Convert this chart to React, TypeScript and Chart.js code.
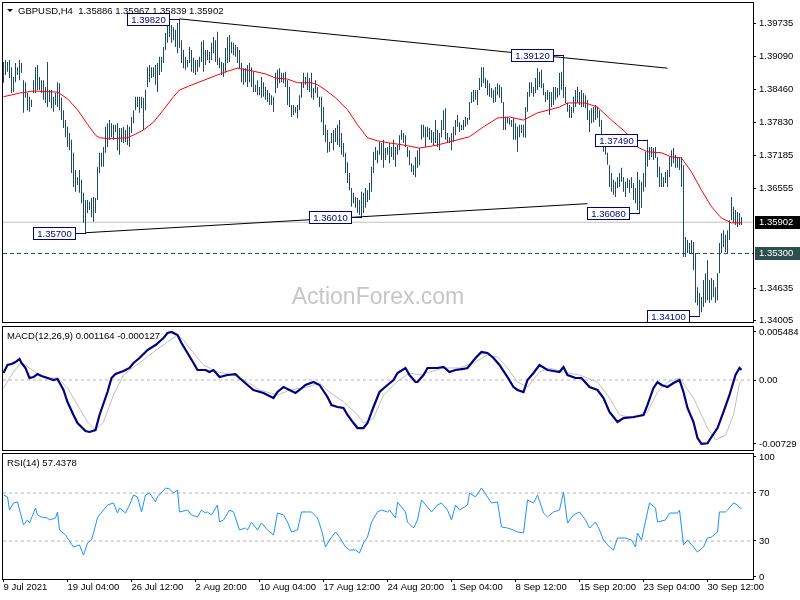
import React, { useEffect, useRef } from "react";
import { Chart, registerables } from "chart.js";

Chart.register(...registerables);

const FONT = "'Liberation Sans', Arial, sans-serif";
const BAR_COLOR = "#1c4a64";

const headerText = "GBPUSD,H4  1.35886 1.35967 1.35839 1.35902";
const watermark = "ActionForex.com";
const macdTitle = "MACD(12,26,9) 0.001164 -0.000127";
const rsiTitle = "RSI(14) 57.4378";

// H4 bars, index 0..369 (high / low)
const barHigh = [
  1.3899,1.3903,1.3899,1.3903,1.3889,1.3870,1.3897,1.3889,1.3903,1.3897,
  1.3864,1.3860,1.3839,1.3832,1.3826,1.3864,1.3889,1.3893,1.3870,1.3864,
  1.3864,1.3851,1.3899,1.3845,1.3845,1.3832,1.3839,1.3860,1.3858,1.3830,
  1.3806,1.3787,1.3774,1.3762,1.3749,1.3724,1.3691,1.3677,1.3691,1.3672,
  1.3647,1.3633,1.3633,1.3629,1.3637,1.3639,1.3637,1.3697,1.3724,1.3724,
  1.3735,1.3774,1.3781,1.3787,1.3781,1.3778,1.3778,1.3781,1.3772,1.3772,
  1.3774,1.3768,1.3778,1.3774,1.3793,1.3806,1.3832,1.3832,1.3832,1.3832,
  1.3830,1.3845,1.3889,1.3893,1.3889,1.3889,1.3893,1.3897,1.3909,1.3909,
  1.3928,1.3955,1.3976,1.3974,1.3970,1.3966,1.3961,1.3974,1.3982,1.3941,
  1.3922,1.3909,1.3903,1.3928,1.3922,1.3907,1.3903,1.3903,1.3909,1.3938,
  1.3941,1.3922,1.3922,1.3918,1.3936,1.3947,1.3941,1.3957,1.3907,1.3899,
  1.3897,1.3926,1.3947,1.3951,1.3938,1.3936,1.3932,1.3928,1.3922,1.3897,
  1.3887,1.3887,1.3893,1.3897,1.3889,1.3880,1.3855,1.3864,1.3851,1.3870,
  1.3860,1.3851,1.3845,1.3839,1.3835,1.3832,1.3878,1.3884,1.3887,1.3878,
  1.3878,1.3880,1.3864,1.3851,1.3816,1.3816,1.3812,1.3816,1.3835,1.3860,
  1.3878,1.3870,1.3878,1.3868,1.3878,1.3849,1.3864,1.3851,1.3832,1.3832,
  1.3812,1.3778,1.3768,1.3745,1.3762,1.3768,1.3772,1.3778,1.3787,1.3762,
  1.3743,1.3724,1.3706,1.3685,1.3656,1.3647,1.3639,1.3637,1.3633,1.3649,
  1.3647,1.3656,1.3652,1.3666,1.3697,1.3726,1.3735,1.3729,1.3745,1.3743,
  1.3749,1.3733,1.3735,1.3743,1.3735,1.3749,1.3735,1.3739,1.3758,1.3768,
  1.3762,1.3758,1.3735,1.3729,1.3704,1.3700,1.3716,1.3729,1.3733,1.3778,
  1.3778,1.3774,1.3774,1.3772,1.3768,1.3764,1.3787,1.3768,1.3762,1.3787,
  1.3806,1.3810,1.3762,1.3754,1.3762,1.3774,1.3787,1.3797,1.3783,1.3778,
  1.3787,1.3793,1.3791,1.3822,1.3841,1.3845,1.3845,1.3845,1.3868,1.3889,
  1.3889,1.3868,1.3864,1.3858,1.3849,1.3845,1.3851,1.3858,1.3855,1.3851,
  1.3822,1.3793,1.3793,1.3791,1.3787,1.3791,1.3781,1.3774,1.3778,1.3778,
  1.3778,1.3812,1.3841,1.3860,1.3860,1.3851,1.3868,1.3887,1.3880,1.3884,
  1.3858,1.3841,1.3845,1.3841,1.3841,1.3851,1.3851,1.3849,1.3878,1.3880,
  1.3912,1.3851,1.3820,1.3816,1.3812,1.3832,1.3845,1.3851,1.3841,1.3845,
  1.3839,1.3835,1.3826,1.3806,1.3810,1.3812,1.3816,1.3812,1.3806,1.3787,
  1.3753,1.3745,1.3724,1.3700,1.3685,1.3672,1.3668,1.3677,1.3685,1.3695,
  1.3677,1.3668,1.3675,1.3672,1.3677,1.3666,1.3656,1.3687,1.3672,1.3668,
  1.3685,1.3726,1.3749,1.3735,1.3735,1.3733,1.3735,1.3716,1.3697,1.3685,
  1.3677,1.3687,1.3691,1.3716,1.3729,1.3733,1.3720,1.3716,1.3716,1.3716,
  1.3700,1.3562,1.3556,1.3550,1.3556,1.3552,1.3531,1.3465,1.3454,1.3446,
  1.3479,1.3492,1.3517,1.3479,1.3483,1.3479,1.3465,1.3492,1.3550,1.3569,
  1.3575,1.3566,1.3575,1.3594,1.3639,1.3620,1.3614,1.3610,1.3608,1.3600,
];
const barLow = [
  1.3859,1.3874,1.3880,1.3868,1.3839,1.3841,1.3860,1.3874,1.3864,1.3878,
  1.3801,1.3830,1.3806,1.3803,1.3812,1.3839,1.3839,1.3845,1.3845,1.3839,
  1.3826,1.3820,1.3812,1.3822,1.3810,1.3803,1.3816,1.3812,1.3806,1.3787,
  1.3772,1.3754,1.3735,1.3729,1.3685,1.3658,1.3649,1.3662,1.3647,1.3627,
  1.3589,1.3570,1.3608,1.3614,1.3600,1.3591,1.3608,1.3633,1.3685,1.3697,
  1.3697,1.3724,1.3735,1.3749,1.3754,1.3749,1.3764,1.3729,1.3720,1.3745,
  1.3743,1.3745,1.3739,1.3735,1.3762,1.3781,1.3806,1.3812,1.3801,1.3810,
  1.3768,1.3806,1.3851,1.3860,1.3868,1.3870,1.3855,1.3841,1.3874,1.3880,
  1.3897,1.3922,1.3936,1.3947,1.3936,1.3941,1.3928,1.3916,1.3926,1.3897,
  1.3887,1.3884,1.3889,1.3897,1.3880,1.3878,1.3874,1.3880,1.3889,1.3899,
  1.3880,1.3893,1.3903,1.3897,1.3903,1.3916,1.3899,1.3893,1.3887,1.3874,
  1.3870,1.3878,1.3897,1.3899,1.3916,1.3912,1.3909,1.3897,1.3887,1.3860,
  1.3855,1.3860,1.3851,1.3860,1.3851,1.3841,1.3841,1.3835,1.3835,1.3830,
  1.3832,1.3826,1.3822,1.3816,1.3816,1.3803,1.3839,1.3849,1.3858,1.3860,
  1.3858,1.3851,1.3816,1.3812,1.3793,1.3797,1.3801,1.3791,1.3806,1.3830,
  1.3849,1.3855,1.3845,1.3841,1.3830,1.3826,1.3839,1.3830,1.3812,1.3783,
  1.3758,1.3745,1.3724,1.3726,1.3743,1.3729,1.3745,1.3739,1.3735,1.3720,
  1.3716,1.3685,1.3666,1.3652,1.3620,1.3627,1.3618,1.3608,1.3604,1.3601,
  1.3608,1.3618,1.3629,1.3633,1.3649,1.3685,1.3710,1.3704,1.3720,1.3710,
  1.3695,1.3710,1.3720,1.3704,1.3716,1.3710,1.3697,1.3720,1.3729,1.3749,
  1.3743,1.3735,1.3716,1.3700,1.3687,1.3681,1.3677,1.3695,1.3700,1.3749,
  1.3754,1.3735,1.3754,1.3749,1.3743,1.3739,1.3743,1.3735,1.3729,1.3754,
  1.3768,1.3749,1.3743,1.3743,1.3729,1.3745,1.3758,1.3774,1.3764,1.3768,
  1.3768,1.3774,1.3778,1.3787,1.3820,1.3822,1.3826,1.3816,1.3845,1.3851,
  1.3858,1.3849,1.3835,1.3832,1.3830,1.3820,1.3822,1.3835,1.3830,1.3820,
  1.3768,1.3768,1.3781,1.3778,1.3774,1.3749,1.3749,1.3726,1.3754,1.3762,
  1.3754,1.3753,1.3803,1.3832,1.3839,1.3832,1.3839,1.3845,1.3851,1.3849,
  1.3835,1.3822,1.3826,1.3797,1.3812,1.3816,1.3826,1.3830,1.3835,1.3845,
  1.3830,1.3820,1.3803,1.3791,1.3791,1.3801,1.3812,1.3820,1.3816,1.3812,
  1.3812,1.3810,1.3787,1.3764,1.3781,1.3783,1.3787,1.3791,1.3774,1.3743,
  1.3726,1.3720,1.3701,1.3658,1.3649,1.3643,1.3639,1.3656,1.3658,1.3668,
  1.3649,1.3639,1.3656,1.3647,1.3656,1.3633,1.3627,1.3614,1.3608,1.3618,
  1.3649,1.3658,1.3697,1.3710,1.3716,1.3710,1.3714,1.3677,1.3658,1.3658,
  1.3658,1.3666,1.3658,1.3677,1.3697,1.3704,1.3695,1.3695,1.3691,1.3658,
  1.3523,1.3523,1.3531,1.3531,1.3531,1.3498,1.3435,1.3430,1.3410,1.3417,
  1.3427,1.3435,1.3440,1.3435,1.3440,1.3446,1.3435,1.3440,1.3492,1.3531,
  1.3542,1.3533,1.3531,1.3556,1.3594,1.3589,1.3585,1.3581,1.3585,1.3585,
];

// Moving average (red), sampled
const maIdx = [0,8,15,27,32,37,42,46,48,53,62,66,70,75,80,85,88,93,99,107,111,117,124,131,136,142,147,154,157,161,166,172,177,182,187,193,200,208,217,227,233,240,247,253,260,267,273,278,282,291,297,304,311,317,322,329,334,339,344,349,354,359,364,369];
const maVal = [1.3832,1.3839,1.3843,1.3841,1.3828,1.3807,1.3779,1.3758,1.3753,1.3751,1.3753,1.3760,1.3768,1.3783,1.3807,1.3832,1.3845,1.3853,1.3862,1.3874,1.3880,1.3887,1.3882,1.3876,1.3868,1.3866,1.3859,1.3859,1.3855,1.3845,1.3830,1.3807,1.3778,1.3753,1.3747,1.3743,1.3739,1.3733,1.3739,1.3749,1.3755,1.3774,1.3791,1.3793,1.3787,1.3801,1.3807,1.3812,1.3820,1.3820,1.3812,1.3787,1.3764,1.3735,1.3726,1.3724,1.3716,1.3714,1.3687,1.3652,1.3620,1.3598,1.3589,1.3589];

const priceTicks = [1.39735, 1.3909, 1.3846, 1.3783, 1.37185, 1.36555, 1.34635, 1.34005];
const currentPrice = 1.35902;
const supportLevel = 1.353;
const currentText = "1.35902";
const supportText = "1.35300";

const pivotIdx = [88, 41, 179, 280, 322, 318, 348];
const pivotPrice = [1.3982, 1.357, 1.3601, 1.3912, 1.3749, 1.3608, 1.341];
const pivotText = ["1.39820", "1.35700", "1.36010", "1.39120", "1.37490", "1.36080", "1.34100"];

const upperTrendIdx = [88, 332];
const upperTrendVal = [1.3982, 1.3887];
const lowerTrendIdx = [41, 292];
const lowerTrendVal = [1.357, 1.3626];

// MACD
const macdIdx = [0,2,4,6,8,9,11,13,15,17,19,22,25,27,30,32,35,37,39,41,43,46,48,52,54,56,60,63,65,68,72,76,80,82,84,87,89,92,95,97,101,103,105,108,112,116,118,122,125,130,135,137,140,143,146,148,151,155,158,162,164,167,170,172,175,177,180,182,185,188,192,195,197,201,203,206,207,210,212,217,220,223,226,230,232,236,239,242,245,248,252,255,257,260,262,265,268,272,275,278,280,282,286,289,293,297,300,303,307,310,315,320,322,325,327,329,332,335,338,340,342,345,347,349,352,354,357,360,363,366,368,369];
const macdVal = [0.0008,0.00171,0.00183,0.00205,0.0024,0.00194,0.00137,0.00023,0.00034,0.00068,0.00046,0.00023,0,0.00011,-0.00114,-0.00251,-0.00399,-0.00491,-0.00536,-0.00582,-0.00593,-0.00571,-0.00399,-0.00137,0.00023,0.00068,0.00103,0.00137,0.00194,0.00251,0.00342,0.00399,0.00479,0.00536,0.00548,0.00513,0.00422,0.00308,0.00194,0.00114,0.00114,0.00091,0.00114,0.00034,0.00057,0.00068,0.00023,-0.00057,-0.00114,-0.00148,-0.00205,-0.00137,-0.0008,-0.00114,-0.00148,-0.00114,-0.00057,-0.00023,-0.00057,-0.00194,-0.00285,-0.00308,-0.00319,-0.00399,-0.00491,-0.00548,-0.00548,-0.00491,-0.00308,-0.00137,-0.00057,0,0.0008,0.00137,0.00057,-0.00023,-0.00023,0.00057,0.00137,0.00137,0.00148,0.00091,0.00114,0.00126,0.00137,0.00251,0.00319,0.00308,0.00251,0.00171,0.00034,-0.0008,-0.00114,-0.00137,0,0.0008,0.00171,0.00114,0.00103,0.00091,0.00148,0.00057,0.00023,0.00023,-0.0008,-0.00114,-0.00205,-0.00365,-0.00479,-0.00434,-0.00422,-0.00399,-0.00285,-0.00091,-0.00023,-0.00057,-0.0008,-0.00034,0,-0.00137,-0.00319,-0.00479,-0.00662,-0.00729,-0.00722,-0.0065,-0.00548,-0.00365,-0.00171,0.00057,0.00137,0.00116];
const signalIdx = [0,5,9,13,18,23,27,32,37,42,46,50,55,60,63,68,75,82,87,90,95,100,107,115,122,128,137,143,152,158,163,170,177,180,185,190,195,198,203,208,213,220,228,235,242,247,252,257,262,268,273,280,288,297,303,308,315,322,327,332,338,345,352,356,361,365,368,369];
const signalVal = [-0.00091,0.00091,0.00205,0.00137,0.00057,0.00023,0.00023,-0.00091,-0.00285,-0.00479,-0.00571,-0.00479,-0.00171,0.00057,0.00114,0.00194,0.00319,0.00434,0.00513,0.00456,0.00308,0.00171,0.00091,0.00057,-0.00023,-0.00114,-0.00171,-0.00114,-0.0008,-0.00034,-0.00137,-0.00251,-0.00399,-0.00491,-0.00434,-0.00171,-0.00057,0,0.0008,0.00057,0.00091,0.00137,0.00137,0.00194,0.00285,0.00262,0.00137,-0.00023,-0.0008,0.00091,0.00137,0.00091,0.00057,-0.00023,-0.00205,-0.00399,-0.00434,-0.00365,-0.00137,-0.00023,0.00023,-0.00205,-0.00548,-0.00685,-0.00628,-0.00399,-0.00034,-0.00013];
const macdTicks = [0.005484, 0, -0.00729];
const macdTickText = ["0.005484", "0.00", "-0.00729"];

// RSI
const rsiIdx = [0,2,3,5,7,9,10,12,13,16,17,19,22,23,26,27,28,31,32,35,38,40,42,44,47,48,52,55,57,58,61,63,65,67,69,71,73,76,77,81,83,85,87,88,92,94,97,99,101,102,104,107,108,110,113,115,118,121,122,124,127,129,132,135,137,140,142,144,147,149,152,154,157,159,161,163,166,168,171,173,176,178,180,182,184,187,189,192,193,196,197,201,202,205,207,209,212,214,217,219,222,224,226,228,232,233,236,239,242,244,247,249,252,255,257,260,262,265,267,270,272,275,278,280,282,285,288,291,293,296,298,300,303,305,307,311,314,316,317,319,322,323,326,327,331,333,337,338,340,342,345,347,350,352,354,357,358,361,362,365,367,368,369];
const rsiVal = [68.3,66.7,55.8,61.7,62.5,50,43.3,47.5,45,57.5,51.7,50,49.2,47.5,49.2,54.2,39.2,35,32.5,25,26.7,18.3,28.3,30.8,49.2,51.7,60,61.7,53.3,57.5,53.3,60,68.3,66.7,54.2,68.3,70,62.5,66.7,74.2,73.3,70,72.5,54.2,55.8,51.7,50,55.8,53.3,54.2,51.7,60,45.8,47.5,55.8,54.2,39.2,40.8,39.2,45.8,39.2,45,39.2,35,53.3,51.7,45.8,37.5,39.2,54.2,54.2,54.2,49.2,39.2,25,30.8,37.5,33.3,25,22.5,22.5,20,28.3,33.3,45.8,54.2,55.8,54.2,55.8,49.2,62.5,54.2,45.8,40.8,47.5,64.2,58.3,54.2,60,61.7,55.8,47.5,60,55.8,60,70,66.7,74.2,66.7,61.7,62.5,41.7,40.8,39.2,37.5,36.7,64.2,61.7,68.3,53.3,50,54.2,55.8,70.8,45,51.7,54.2,47.5,40.8,45.8,39.2,30.8,25,22.5,32.5,32.5,30.8,25,36.7,30.8,54.2,61.7,57.5,45.8,47.5,53.3,53.3,55.8,26.7,30.8,25,20.8,25,32.5,33.3,37.5,54.2,54.2,55.8,61.7,60,57.5,57.4];
const rsiTicks = [100, 70, 30, 0];
const rsiTickText = ["100", "70", "30", "0"];
const rsiLevels = [70, 30];

// time axis
const timeIdx = [0, 32, 64, 96, 128, 160, 192, 224, 256, 288, 320, 352];
const timeLabels = ["9 Jul 2021", "19 Jul 04:00", "26 Jul 12:00", "2 Aug 20:00", "10 Aug 04:00", "17 Aug 12:00", "24 Aug 20:00", "1 Sep 04:00", "8 Sep 12:00", "15 Sep 20:00", "23 Sep 04:00", "30 Sep 12:00"];

const X_MIN = -0.25;
const X_MAX = 374.75;
const TICK_FONT = { family: FONT, size: 9.5 };

const pts = (idx: number[], val: number[]) => idx.map((x, k) => ({ x, y: val[k] }));
const hline = (v: number) => [{ x: X_MIN, y: v }, { x: X_MAX, y: v }];

const frame = {
  id: "frame",
  afterDraw(chart: any) {
    const { ctx, chartArea: a } = chart;
    ctx.save();
    ctx.strokeStyle = "#000";
    ctx.lineWidth = 1;
    ctx.strokeRect(a.left - 0.5, a.top - 0.5, a.right - a.left + 1, a.bottom - a.top + 1);
    ctx.restore();
  },
};

const noPad = (s: any) => {
  s.paddingTop = 0;
  s.paddingBottom = 0;
  s.paddingLeft = 0;
  s.paddingRight = 0;
};

const yAxisBase = (ticks: number[], text: (v: number, i: number) => string, min: number, max: number) => ({
  position: "right" as const,
  min,
  max,
  afterFit: (s: any) => { s.width = 47; noPad(s); },
  afterBuildTicks: (s: any) => { s.ticks = ticks.map((v) => ({ value: v })); },
  ticks: { callback: (v: any, i: number) => text(Number(v), i), font: TICK_FONT, color: "#000", padding: 3, autoSkip: false },
  grid: { drawOnChartArea: false, drawTicks: true, tickLength: 3, color: "#000" },
  border: { display: false },
});

export default function App() {
  const mainRef = useRef<HTMLCanvasElement>(null);
  const macdRef = useRef<HTMLCanvasElement>(null);
  const rsiRef = useRef<HTMLCanvasElement>(null);

  useEffect(() => {
    const charts: Chart[] = [];
    const bars = barHigh.map((h, i) => ({ x: i, y: [barLow[i], h] }));

    const mainDecor = {
      id: "mainDecor",
      beforeDatasetsDraw(chart: any) {
        const { ctx } = chart;
        ctx.save();
        ctx.font = `23px ${FONT}`;
        ctx.fillStyle = "#c6c6c6";
        ctx.textAlign = "center";
        ctx.textBaseline = "middle";
        ctx.fillText(watermark, 378, 298);
        ctx.restore();
      },
      afterDatasetsDraw(chart: any) {
        const { ctx, scales } = chart;
        const xs = scales.x, ys = scales.y;
        ctx.save();
        ctx.font = `9.5px ${FONT}`;
        ctx.textAlign = "center";
        ctx.textBaseline = "middle";
        for (let k = 0; k < pivotIdx.length; k++) {
          const px = xs.getPixelForValue(pivotIdx[k]);
          const py = Math.round(ys.getPixelForValue(pivotPrice[k])) + 0.5;
          const right = px - 10;
          ctx.strokeStyle = "#000080";
          ctx.lineWidth = 1;
          ctx.beginPath();
          ctx.moveTo(right, py);
          ctx.lineTo(px + 0.5, py);
          ctx.stroke();
          ctx.fillStyle = "#ffffff";
          ctx.fillRect(right - 42, py - 6, 42, 12);
          ctx.strokeRect(right - 42, py - 6, 42, 12);
          ctx.fillStyle = "#000080";
          ctx.fillText(pivotText[k], right - 21, py + 0.5);
        }
        ctx.restore();
      },
      afterDraw(chart: any) {
        const { ctx, chartArea: a, scales } = chart;
        const ys = scales.y;
        ctx.save();
        ctx.fillStyle = "#000";
        ctx.beginPath();
        ctx.moveTo(7, 9);
        ctx.lineTo(13, 9);
        ctx.lineTo(10, 12);
        ctx.closePath();
        ctx.fill();
        ctx.font = `9.5px ${FONT}`;
        ctx.textAlign = "left";
        ctx.textBaseline = "middle";
        ctx.fillText(headerText, 18, 11);
        const boxes: [number, string, string][] = [
          [currentPrice, currentText, "#000000"],
          [supportLevel, supportText, "#2f4f4f"],
        ];
        for (const [v, t, c] of boxes) {
          const py = Math.round(ys.getPixelForValue(v));
          ctx.fillStyle = c;
          ctx.fillRect(a.right + 2, py - 6, 46, 13);
          ctx.fillStyle = "#fff";
          ctx.fillText(t, a.right + 6, py + 0.5);
        }
        ctx.restore();
      },
    };

    if (mainRef.current) {
      charts.push(
        new Chart(mainRef.current, {
          type: "bar",
          data: {
            datasets: [
              { type: "line", data: hline(currentPrice), borderColor: "#c0c0c0", borderWidth: 1, pointRadius: 0, order: 6 } as any,
              { type: "line", data: hline(supportLevel), borderColor: "#2f4f4f", borderDash: [4, 3], borderWidth: 1, pointRadius: 0, order: 5 } as any,
              { type: "bar", data: bars, backgroundColor: BAR_COLOR, barThickness: 1, borderWidth: 0, inflateAmount: 0, order: 4 } as any,
              { type: "line", data: pts(maIdx, maVal), borderColor: "#ff0000", borderWidth: 1, pointRadius: 0, tension: 0, order: 3 } as any,
              { type: "line", data: pts(upperTrendIdx, upperTrendVal), borderColor: "#000", borderWidth: 1, pointRadius: 0, order: 2 } as any,
              { type: "line", data: pts(lowerTrendIdx, lowerTrendVal), borderColor: "#000", borderWidth: 1, pointRadius: 0, order: 1 } as any,
            ],
          },
          options: {
            animation: false,
            responsive: false,
            maintainAspectRatio: false,
            events: [],
            layout: { padding: { left: 3, top: 3, right: 0, bottom: 3 } },
            plugins: { legend: { display: false }, tooltip: { enabled: false } },
            scales: {
              x: { type: "linear", min: X_MIN, max: X_MAX, offset: false, display: false, grid: { offset: false } } as any,
              y: yAxisBase(priceTicks, (v) => v.toFixed(5), 1.3398, 1.40126) as any,
            },
          },
          plugins: [mainDecor, frame],
        })
      );
    }

    const titlePlugin = (text: string) => ({
      id: "title_" + text.length,
      afterDraw(chart: any) {
        const { ctx } = chart;
        ctx.save();
        ctx.font = `9.5px ${FONT}`;
        ctx.fillStyle = "#000";
        ctx.textAlign = "left";
        ctx.textBaseline = "middle";
        ctx.fillText(text, 7, 12);
        ctx.restore();
      },
    });

    if (macdRef.current) {
      charts.push(
        new Chart(macdRef.current, {
          type: "line",
          data: {
            datasets: [
              { data: hline(0), borderColor: "#b4b4b4", borderDash: [3, 3], borderWidth: 1, pointRadius: 0, order: 3 },
              { data: pts(signalIdx, signalVal), borderColor: "#c0c0c0", borderWidth: 1, pointRadius: 0, order: 2 },
              { data: pts(macdIdx, macdVal), borderColor: "#000080", borderWidth: 2.2, pointRadius: 0, order: 1 },
            ] as any,
          },
          options: {
            animation: false,
            responsive: false,
            maintainAspectRatio: false,
            events: [],
            layout: { padding: { left: 3, top: 3, right: 0, bottom: 3 } },
            plugins: { legend: { display: false }, tooltip: { enabled: false } },
            scales: {
              x: { type: "linear", min: X_MIN, max: X_MAX, display: false } as any,
              y: yAxisBase(macdTicks, (_v, i) => macdTickText[i], -0.007987, 0.0060473) as any,
            },
          },
          plugins: [titlePlugin(macdTitle), frame],
        })
      );
    }

    if (rsiRef.current) {
      charts.push(
        new Chart(rsiRef.current, {
          type: "line",
          data: {
            datasets: [
              ...rsiLevels.map((lv) => ({ data: hline(lv), borderColor: "#b4b4b4", borderDash: [3, 3], borderWidth: 1, pointRadius: 0, order: 2 })),
              { data: pts(rsiIdx, rsiVal), borderColor: "#1e90ff", borderWidth: 1, pointRadius: 0, order: 1 },
            ] as any,
          },
          options: {
            animation: false,
            responsive: false,
            maintainAspectRatio: false,
            events: [],
            layout: { padding: { left: 3, top: 3, right: 0, bottom: 0 } },
            plugins: { legend: { display: false }, tooltip: { enabled: false } },
            scales: {
              x: {
                type: "linear",
                min: X_MIN,
                max: X_MAX,
                afterFit: (s: any) => { s.height = 21; noPad(s); },
                afterBuildTicks: (s: any) => { s.ticks = timeIdx.map((v) => ({ value: v })); },
                ticks: { callback: (_v: any, i: number) => timeLabels[i], align: "start", maxRotation: 0, autoSkip: false, font: TICK_FONT, color: "#000", padding: 0 },
                grid: { drawOnChartArea: false, drawTicks: true, tickLength: 3, color: "#000" },
                border: { display: false },
              } as any,
              y: yAxisBase(rsiTicks, (_v, i) => rsiTickText[i], -1.667, 102.5) as any,
            },
          },
          plugins: [titlePlugin(rsiTitle), frame],
        })
      );
    }

    return () => charts.forEach((c) => c.destroy());
  }, []);

  return (
    <div style={{ position: "fixed", left: 0, top: 0, width: 800, height: 600, background: "#fff" }}>
      <canvas ref={mainRef} width={800} height={325} style={{ position: "absolute", left: 0, top: 0, width: 800, height: 325 }} />
      <canvas ref={macdRef} width={800} height={129} style={{ position: "absolute", left: 0, top: 324, width: 800, height: 129 }} />
      <canvas ref={rsiRef} width={800} height={149} style={{ position: "absolute", left: 0, top: 451, width: 800, height: 149 }} />
    </div>
  );
}
